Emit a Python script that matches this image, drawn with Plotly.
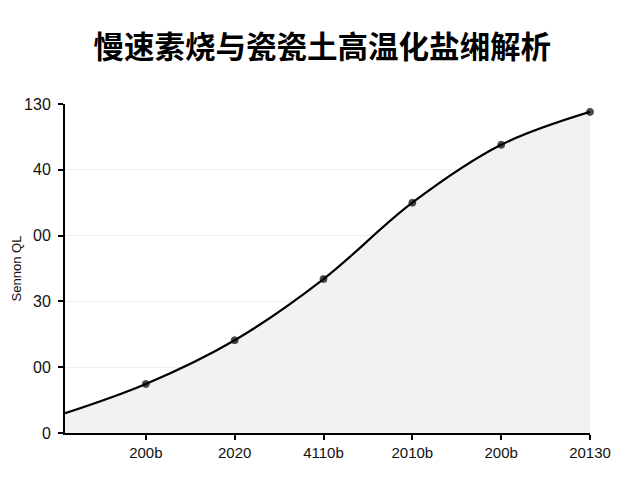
import plotly.graph_objects as go

# Data
x_labels = ["200b", "2020", "4110b", "2010b", "200b", "20130"]
x_index = [0, 1, 2, 3, 4, 5]
series_values = [0.745, 1.41, 2.34, 3.50, 4.38, 4.88]
start_x = -0.91
start_value = 0.30
y_tick_vals = [0, 1, 2, 3, 4, 5]
y_tick_text = ["0", "00", "30", "00", "40", "130"]

title_text = "慢速素烧与瓷瓷土高温化盐缃解析"
y_title = "Sennon QL"

xs = [start_x] + x_index
ys = [start_value] + series_values
marker_sizes = [0] + [7] * len(series_values)

fig = go.Figure()
fig.add_trace(go.Scatter(
    x=xs, y=ys,
    mode="lines+markers",
    line=dict(color="black", width=2.2, shape="spline", smoothing=1.0),
    marker=dict(color="black", size=marker_sizes, line=dict(color="black", width=1)),
    fill="tozeroy",
    fillcolor="rgba(238,238,238,0.75)",
    cliponaxis=False,
    showlegend=False,
))

fig.update_layout(
    width=640, height=480,
    margin=dict(l=57, r=58, t=96, b=55),
    paper_bgcolor="white",
    plot_bgcolor="white",
    title=dict(
        text="<b>" + title_text + "</b>",
        x=0.49, xanchor="center", xref="paper",
        y=1 - 39 / 480, yanchor="middle",
        font=dict(family="Noto Sans CJK SC", size=30.5, color="black"),
    ),
    font=dict(family="Liberation Sans, Arial", size=14, color="#111"),
)

fig.update_xaxes(
    range=[start_x, 5.0],
    tickmode="array", tickvals=x_index, ticktext=x_labels,
    showgrid=False, zeroline=False,
    showline=True, linecolor="black", linewidth=2,
    ticks="outside", ticklen=5, tickwidth=1.5, tickcolor="black",
    tickfont=dict(size=15, color="#111"),
    automargin=False,
)
fig.update_yaxes(
    range=[0, 5],
    tickmode="array", tickvals=y_tick_vals, ticktext=y_tick_text,
    showgrid=True, gridcolor="#eeeeee", gridwidth=1,
    zeroline=False,
    showline=True, linecolor="black", linewidth=2,
    ticks="outside", ticklen=5, tickwidth=1.5, tickcolor="black",
    ticklabelstandoff=4,
    tickfont=dict(size=16, color="#111"),
    title=dict(text=y_title, font=dict(size=13, color="#111"), standoff=0),
    automargin=False,
)

fig.write_html("out.html")
